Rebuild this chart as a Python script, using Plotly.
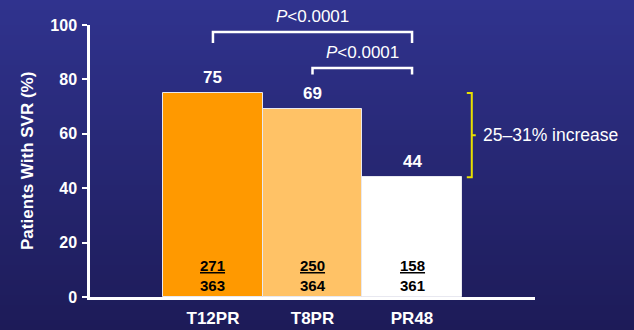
import plotly.graph_objects as go

# Sustained virologic response by treatment arm
arms = ["T12PR", "T8PR", "PR48"]
svr_pct = [75, 69, 44]
responders = [271, 250, 158]
totals = [363, 364, 361]
bar_colors = ["#FF9900", "#FFC266", "#FFFFFF"]

y_ticks = [0, 20, 40, 60, 80, 100]
y_title = "Patients With SVR (%)"
p_labels = ["<i>P</i>&lt;0.0001", "<i>P</i>&lt;0.0001"]
p_pairs = [(0, 2), (1, 2)]
increase_label = "25\u201331% increase"

FONT = "Liberation Sans, Arial, sans-serif"
W, H = 634, 330
M_L, M_R, M_T, M_B = 90, 99, 25, 33
PLOT_W = W - M_L - M_R
PLOT_H = H - M_T - M_B

fig = go.Figure(
    go.Bar(
        x=arms,
        y=svr_pct,
        width=1.0,
        marker=dict(color=bar_colors, line=dict(color="#E8E8F0", width=1)),
        hoverinfo="skip",
    )
)

# vertical gradient background drawn as thin stripes
top_rgb = (48, 51, 142)
bot_rgb = (29, 27, 88)
n_strips = 66
shapes = []
for k in range(n_strips):
    py0 = k * H / n_strips
    py1 = (k + 1) * H / n_strips + 0.6
    t = k / (n_strips - 1)
    c = tuple(round(a + (b - a) * t) for a, b in zip(top_rgb, bot_rgb))
    shapes.append(dict(
        type="rect", xref="paper", yref="paper", layer="below",
        x0=-M_L / PLOT_W, x1=1 + M_R / PLOT_W,
        y0=(H - M_B - py1) / PLOT_H, y1=(H - M_B - py0) / PLOT_H,
        fillcolor="rgb(%d,%d,%d)" % c, line=dict(width=0),
    ))

annotations = []

# y-axis title, rotated, centred on the plot height
annotations.append(dict(
    xref="paper", yref="paper", x=(27 - M_L) / PLOT_W, y=0.5,
    text="<b>%s</b>" % y_title, textangle=-90, showarrow=False,
    xanchor="center", yanchor="middle",
    font=dict(family=FONT, size=17, color="white"),
))

# value labels above each bar and n/N fractions inside
for i, (arm, v) in enumerate(zip(arms, svr_pct)):
    annotations.append(dict(
        x=arm, y=v, text="<b>%d</b>" % v, showarrow=False,
        yanchor="bottom", yshift=4,
        font=dict(family=FONT, size=17, color="white"),
    ))
    annotations.append(dict(
        x=arm, y=0, text="<b><u>%d</u><br>%d</b>" % (responders[i], totals[i]),
        showarrow=False, yanchor="bottom", yshift=1,
        font=dict(family=FONT, size=15, color="black"),
    ))

# significance brackets between arms
bracket_levels = [(97.4, 93.4), (84.2, 81.8)]
for (a, b), label, (ytop, yleg) in zip(p_pairs, p_labels, bracket_levels):
    shapes.append(dict(
        type="path", xref="x", yref="y",
        path="M %d,%s L %d,%s L %d,%s L %d,%s" % (a, yleg, a, ytop, b, ytop, b, yleg),
        line=dict(color="white", width=2.5),
    ))
    annotations.append(dict(
        x=(a + b) / 2, y=ytop, text=label, showarrow=False,
        yanchor="bottom", yshift=4,
        font=dict(family=FONT, size=17, color="white"),
    ))

# yellow brace spanning the difference between the best arm and control
lo, hi = svr_pct[2], svr_pct[0]
mid = (lo + hi) / 2
bx0, bx1 = 2.55, 2.60
shapes.append(dict(
    type="path", xref="x", yref="y",
    path="M %s,%s L %s,%s L %s,%s L %s,%s M %s,%s L %s,%s" % (
        bx0, hi, bx1, hi, bx1, lo, bx0, lo, bx1, mid, 2.64, mid),
    line=dict(color="#E8E000", width=2),
))
annotations.append(dict(
    x=2.69, y=mid, text=increase_label, showarrow=False,
    xanchor="left", yanchor="middle",
    font=dict(family=FONT, size=17.5, color="white"),
))

fig.update_layout(
    width=W, height=H,
    margin=dict(l=M_L, r=M_R, t=M_T, b=M_B),
    paper_bgcolor="rgb(29,27,88)",
    plot_bgcolor="rgba(0,0,0,0)",
    showlegend=False,
    bargap=0,
    shapes=shapes,
    annotations=annotations,
    xaxis=dict(
        range=[-1.235, 3.235], showgrid=False, zeroline=False, automargin=False,
        showline=True, linecolor="white", linewidth=2.5,
        ticks="", ticklabelstandoff=4,
        tickfont=dict(family=FONT, size=17, color="white", weight="bold"),
    ),
    yaxis=dict(
        range=[0, 100], tickvals=y_ticks, showgrid=False, zeroline=False,
        automargin=False,
        showline=True, linecolor="white", linewidth=2.5,
        ticks="outside", ticklen=5, tickwidth=2, tickcolor="white",
        ticklabelstandoff=2,
        tickfont=dict(family=FONT, size=16, color="white", weight="bold"),
    ),
)

fig.write_html("out.html")
